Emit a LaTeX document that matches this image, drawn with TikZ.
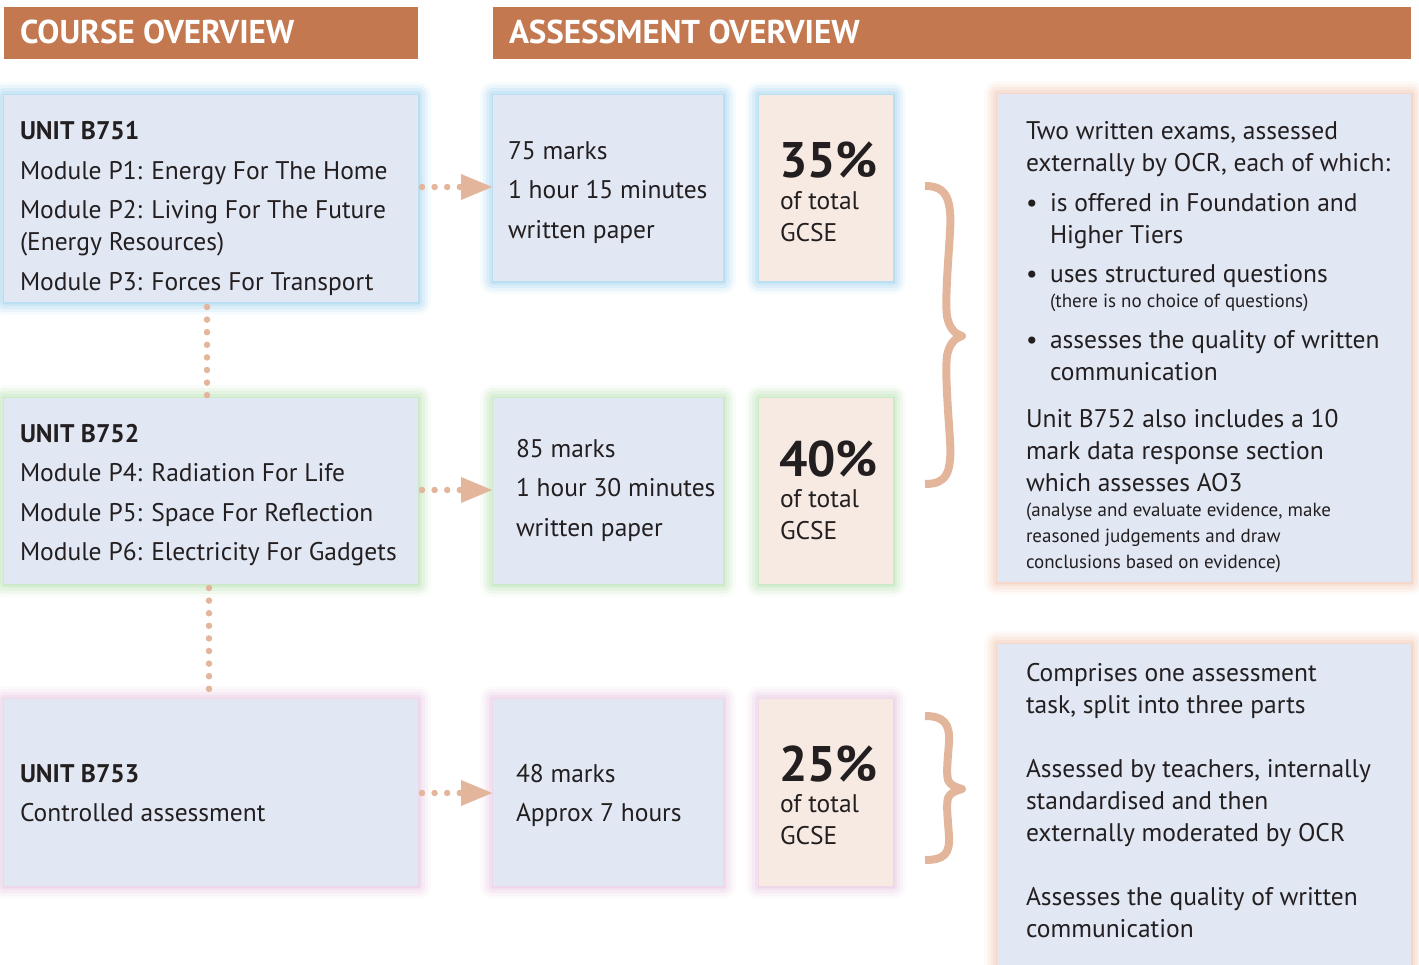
\documentclass[tikz,border=0pt]{standalone}
\usepackage{fontspec}
\setmainfont{PT Sans}
\usetikzlibrary{arrows.meta,calc}
\definecolor{hdr}{RGB}{196,120,80}
\definecolor{boxbg}{RGB}{225,231,243}
\definecolor{pctbg}{RGB}{247,234,227}
\definecolor{peach}{RGB}{227,181,155}
\definecolor{ink}{RGB}{35,31,32}
\definecolor{gblue}{RGB}{110,185,228}
\definecolor{ggreen}{RGB}{150,210,140}
\definecolor{gpink}{RGB}{220,170,210}
\definecolor{gpeach}{RGB}{232,170,140}
\tikzset{
  glow/.style={
    preaction={draw=#1, line width=26pt, draw opacity=0.06, line join=round},
    preaction={draw=#1, line width=20pt, draw opacity=0.09, line join=round},
    preaction={draw=#1, line width=14pt, draw opacity=0.12, line join=round},
    preaction={draw=#1, line width=8pt, draw opacity=0.15, line join=round},
    preaction={draw=#1, line width=3pt, draw opacity=0.18}},
  panel/.style={rectangle, fill=boxbg, inner sep=0pt, outer sep=0pt, anchor=north west},
  hdrbox/.style={panel, fill=hdr},
  pctbox/.style={panel, fill=pctbg},
  t/.style={anchor=base west, inner sep=0pt, outer sep=0pt, text=ink, font=\fontsize{25.5}{30}\selectfont},
  tb/.style={t, font=\fontsize{25.5}{30}\selectfont\bfseries},
  ts/.style={t, font=\fontsize{19}{23}\selectfont},
  tp/.style={t, font=\fontsize{50}{56}\selectfont\bfseries},
  th/.style={anchor=base west, inner sep=0pt, outer sep=0pt, text=white, font=\fontsize{33}{38}\selectfont\bfseries},
  dotline/.style={draw=peach, line width=6.5pt, line cap=round, dash pattern=on 0pt off 12.6pt},
  arrowdots/.style={dotline, shorten <=4pt, -{Triangle[length=32pt, width=24pt, line cap=butt]}},
  bracestyle/.style={draw=peach, line width=8pt, line cap=butt, line join=round}
}
\begin{document}
\begin{tikzpicture}[x=1pt, y=-1pt]
\useasboundingbox (0,0) rectangle (1419,964);
% headers
\node[hdrbox, minimum width=414pt, minimum height=52pt] (h1) at (4,7) {};
\node[hdrbox, minimum width=918pt, minimum height=52pt] (h2) at (493,7) {};
\node[th] (h1t) at (20,43) {COURSE OVERVIEW};
\node[th] (h2t) at (509,43) {ASSESSMENT OVERVIEW};
% row 1
\node[panel, glow=gblue, minimum width=414pt, minimum height=207pt] (b1) at (4,95) {};
\node[panel, glow=gblue, minimum width=230pt, minimum height=186pt] (m1) at (493,95) {};
\node[pctbox, glow=gblue, minimum width=134pt, minimum height=186pt] (p1) at (759,95) {};
% row 2
\node[panel, glow=ggreen, minimum width=414pt, minimum height=186pt] (b2) at (4,398) {};
\node[panel, glow=ggreen, minimum width=230pt, minimum height=186pt] (m2) at (493,398) {};
\node[pctbox, glow=ggreen, minimum width=134pt, minimum height=186pt] (p2) at (759,398) {};
% row 3
\node[panel, glow=gpink, minimum width=414pt, minimum height=187pt] (b3) at (4,699) {};
\node[panel, glow=gpink, minimum width=230pt, minimum height=187pt] (m3) at (493,699) {};
\node[pctbox, glow=gpink, minimum width=134pt, minimum height=187pt] (p3) at (759,699) {};
% right boxes
\node[panel, glow=gpeach, minimum width=414pt, minimum height=488pt] (r1) at (997,94) {};
\node[panel, glow=gpeach, minimum width=414pt, minimum height=330pt] (r2) at (997,644) {};

% connectors
\draw[arrowdots] (b1.east |- 0,187) coordinate (a1s) -- (m1.west |- a1s);
\draw[arrowdots] (b2.east |- 0,490) coordinate (a2s) -- (m2.west |- a2s);
\draw[arrowdots] (b3.east |- 0,793) coordinate (a3s) -- (m3.west |- a3s);
\draw[dotline] ([xshift=-4pt, yshift=-5pt]b1.south) -- ([xshift=-4pt]b2.north);
\draw[dotline] ([xshift=-2pt, yshift=-4pt]b2.south) -- ([xshift=-2pt, yshift=5pt]b3.north);

% braces
\draw[bracestyle] (925,186) .. controls (946,186) and (952,198) .. (950,232)
  .. controls (948,265) and (945,300) .. (947,316)
  .. controls (949,328) and (955,334) .. (962,336)
  .. controls (955,338) and (949,344) .. (947,356)
  .. controls (945,372) and (948,410) .. (950,440)
  .. controls (952,474) and (946,484) .. (925,484);
\draw[bracestyle] (925,716) .. controls (944,716) and (950,724) .. (949,742)
  .. controls (948,758) and (946,772) .. (948,780)
  .. controls (950,785) and (955,787) .. (962,789)
  .. controls (955,791) and (950,793) .. (948,798)
  .. controls (946,806) and (948,820) .. (949,836)
  .. controls (950,854) and (944,860) .. (925,860);

% unit texts
\node[tb] (b1a) at (20,139) {UNIT B751};
\node[t] (b1b) at (20,179) {Module P1: Energy For The Home};
\node[t] (b1c) at (20,218) {Module P2: Living For The Future};
\node[t] (b1d) at (20,250) {(Energy Resources)};
\node[t] (b1e) at (20,290) {Module P3: Forces For Transport};
\node[tb] (b2a) at (20,442) {UNIT B752};
\node[t] (b2b) at (20,481) {Module P4: Radiation For Life};
\node[t] (b2c) at (20,521) {Module P5: Space For Reflection};
\node[t] (b2d) at (20,560) {Module P6: Electricity For Gadgets};
\node[tb] (b3a) at (20,782) {UNIT B753};
\node[t] (b3b) at (20,821) {Controlled assessment};

% marks texts
\node[t] (m1a) at (508,159) {75 marks};
\node[t] (m1b) at (508,198) {1 hour 15 minutes};
\node[t] (m1c) at (508,238) {written paper};
\node[t] (m2a) at (516,457) {85 marks};
\node[t] (m2b) at (516,496) {1 hour 30 minutes};
\node[t] (m2c) at (516,536) {written paper};
\node[t] (m3a) at (516,782) {48 marks};
\node[t] (m3b) at (516,821) {Approx 7 hours};

% percent texts
\node[tp] (p1a) at (779,177) {35\%};
\node[t] (p1b) at (780,209) {of total};
\node[t] (p1c) at (780,241) {GCSE};
\node[tp] (p2a) at (779,476) {40\%};
\node[t] (p2b) at (780,507) {of total};
\node[t] (p2c) at (780,539) {GCSE};
\node[tp] (p3a) at (779,781) {25\%};
\node[t] (p3b) at (780,812) {of total};
\node[t] (p3c) at (780,844) {GCSE};

% right box 1
\node[t] (r1a) at (1026,139) {Two written exams, assessed};
\node[t] (r1b) at (1026,171) {externally by OCR, each of which:};
\node[t] (r1c1) at (1026,211) {\textbullet};
\node[t] (r1c) at (1050,211) {is offered in Foundation and};
\node[t] (r1d) at (1050,243) {Higher Tiers};
\node[t] (r1e1) at (1026,282) {\textbullet};
\node[t] (r1e) at (1050,282) {uses structured questions};
\node[ts] (r1f) at (1050,307) {(there is no choice of questions)};
\node[t] (r1g1) at (1026,348) {\textbullet};
\node[t] (r1g) at (1050,348) {assesses the quality of written};
\node[t] (r1h) at (1050,380) {communication};
\node[t] (r1i) at (1026,427) {Unit B752 also includes a 10};
\node[t] (r1j) at (1026,459) {mark data response section};
\node[t] (r1k) at (1026,491) {which assesses AO3};
\node[ts] (r1l) at (1026,516) {(analyse and evaluate evidence, make};
\node[ts] (r1m) at (1026,542) {reasoned judgements and draw};
\node[ts] (r1n) at (1026,568) {conclusions based on evidence)};

% right box 2
\node[t] (r2a) at (1026,681) {Comprises one assessment};
\node[t] (r2b) at (1026,713) {task, split into three parts};
\node[t] (r2c) at (1026,777) {Assessed by teachers, internally};
\node[t] (r2d) at (1026,809) {standardised and then};
\node[t] (r2e) at (1026,841) {externally moderated by OCR};
\node[t] (r2f) at (1026,905) {Assesses the quality of written};
\node[t] (r2g) at (1026,937) {communication};
\end{tikzpicture}
\end{document}
